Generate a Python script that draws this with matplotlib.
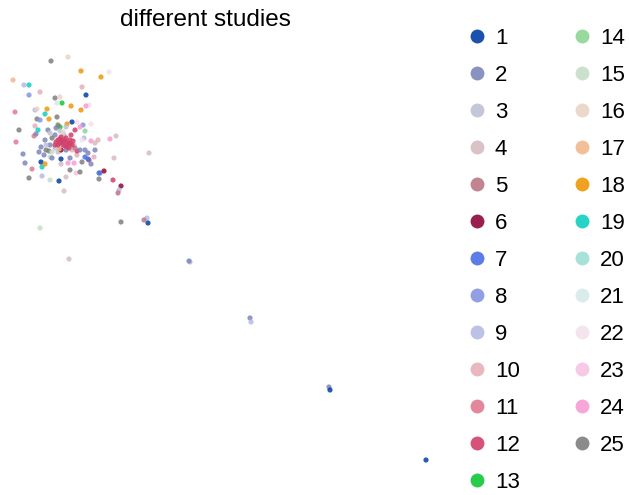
import matplotlib
matplotlib.use('Agg')
import matplotlib.pyplot as plt
from matplotlib.lines import Line2D

plt.rcParams['font.family'] = ['Liberation Sans', 'DejaVu Sans']

# colours per study (zeileis palette, as in scanpy)
palette = ["#023fa5", "#7d87b9", "#bec1d4", "#d6bcc0", "#bb7784", "#8e063b",
           "#4a6fe3", "#8595e1", "#b5bbe3", "#e6afb9", "#e07b91", "#d33f6a",
           "#11c638", "#8dd593", "#c6dec7", "#ead3c6", "#f0b98d", "#ef9708",
           "#0fcfc0", "#9cded6", "#d5eae7", "#f3e1eb", "#f6c4e1", "#f79cd4",
           "#7f7f7f"]
studies = [str(i) for i in range(1, 26)]

# embedding coordinates
umap1 = [5.1, 6.8, 8.1, 10.1, 10.9, 1.3, 2.4, 2.9, 2.9, 4.0, 8.2, 8.6, 5.5, 6.0, 6.2, 5.7,
         7.1, 8.9, 8.6, 8.1, 4.7, 3.5, 3.7, 4.5, 1.5, 5.7, 3.7, 4.9, 4.0, 1.9, 1.6, 3.5,
         3.8, 3.4, 3.6, 7.7, 7.2, 8.3, 8.0, 9.1, 6.7, 6.0, 8.5, 7.5, 7.1, 8.4, 11.0, 11.6,
         9.8, 9.5, 9.1, 4.1, 3.9, 2.3, 2.5, 3.2, 4.2, 4.1, 4.5, 5.0, 4.9, 5.8, 6.1, 6.8,
         7.4, 6.1, 8.2, 8.5, 7.7, 7.7, 8.9, 9.1, 8.8, 9.4, 11.4, 14.9, 4.2, 2.9, 5.0, 5.9,
         6.6, 7.6, 8.0, 10.0, 9.9, 10.4, 9.9, 11.3, 12.1, 11.9, 11.8, 6.4, 12.1, 14.7, 14.8,
         14.4, 4.0, 6.9, 19.0, 18.9, 25.0, 25.1, 32.9, 33.0, 42.6,
         # dense core
         4.5, 5.0, 5.5, 4.8, 6.2, 8.0, 8.5, 7.0, 6.6, 5.2, 8.8, 9.5, 5.6, 4.4,
         5.2, 5.8, 4.6, 7.0, 5.0, 6.0, 6.6, 7.4, 4.6, 5.5, 6.4, 5.7, 5.2, 8.2, 6.6,
         7.2, 6.1, 7.5, 6.3, 5.9,
         5.6, 5.8, 6.0, 6.2, 6.4, 6.6, 6.8, 7.0, 7.2, 6.0, 6.3, 6.5, 6.7, 6.9, 5.8,
         6.1, 5.5, 7.0, 7.3, 6.6]
umap2 = [41.9, 42.3, 40.9, 40.3, 40.8, 40.0, 39.5, 39.5, 38.5, 38.8, 39.3, 38.5, 38.2, 38.3,
         37.7, 37.7, 37.4, 37.5, 37.4, 37.0, 37.1, 37.0, 37.1, 36.6, 36.8, 36.3, 36.1, 36.1,
         36.0, 35.0, 33.8, 35.4, 35.0, 34.4, 34.6, 35.8, 35.8, 35.5, 35.3, 35.6, 35.6, 35.3,
         34.9, 35.0, 34.5, 34.2, 34.1, 34.4, 34.0, 33.7, 33.9, 33.3, 32.8, 32.6, 31.7, 31.1,
         31.3, 31.8, 31.6, 32.3, 32.9, 32.8, 31.6, 31.7, 31.7, 32.1, 31.8, 32.3, 32.5, 32.9,
         32.0, 31.6, 32.1, 32.3, 32.2, 32.7, 30.4, 30.2, 30.0, 29.9, 30.3, 30.7, 30.8, 30.7,
         30.7, 30.9, 30.1, 30.0, 29.4, 29.0, 28.7, 28.9, 25.8, 26.2, 25.7, 26.0, 25.2, 22.1,
         21.8, 21.9, 16.2, 15.8, 9.3, 9.0, 2.0,
         34.0, 33.5, 34.5, 35.0, 33.8, 33.0, 33.0, 32.2, 33.0, 32.2, 32.7, 33.0, 35.2, 32.5,
         34.2, 35.5, 33.0, 31.0, 34.7, 34.9, 35.3, 33.5, 33.5, 33.2, 34.5, 33.3, 32.8, 34.0,
         33.4, 33.0, 33.0, 33.2, 34.8, 33.1,
         33.8, 34.0, 34.1, 33.9, 34.0, 33.8, 33.7, 33.6, 33.5, 33.7, 33.5, 33.4, 33.3, 33.2,
         33.5, 34.3, 33.5, 34.0, 33.9, 34.2]
study = [25, 16, 18, 18, 22, 17, 9, 19, 8, 10, 10, 1, 25, 16, 13, 21, 18, 22, 24, 18, 18, 9,
         16, 19, 11, 25, 25, 18, 8, 25, 11, 10, 19, 11, 2, 22, 1, 8, 24, 22, 18, 13, 14, 12,
         12, 9, 24, 4, 10, 4, 24, 2, 2, 2, 2, 11, 19, 1, 18, 15, 25, 3, 4, 24, 24, 1, 25, 7,
         10, 12, 12, 2, 7, 10, 4, 4, 9, 25, 15, 1, 4, 23, 25, 2, 7, 6, 25, 12, 6, 9, 5, 4, 25,
         9, 1, 5, 15, 4, 9, 2, 2, 9, 2, 1, 1,
         2, 2, 2, 2, 2, 2, 2, 2, 2, 2, 2, 2, 2, 2,
         25, 25, 25, 25, 3, 3, 3, 3, 3, 9, 9, 15, 15, 22, 22,
         10, 6, 5, 16, 17,
         12, 12, 12, 12, 12, 12, 12, 12, 12, 12, 12, 12, 12, 12, 12,
         12, 12, 12, 12, 12]

fig = plt.figure(figsize=(6.29, 4.95), dpi=100)
ax = fig.add_axes([0.0, 25 / 495, 445 / 629, 434 / 495])

cols = [palette[s - 1] for s in study]
ax.scatter(umap1, umap2, c=cols, s=14, linewidths=0, alpha=0.85)
ax.set_xlim(0, 44.5)
ax.set_ylim(1.0, 44.4)
ax.set_xticks([])
ax.set_yticks([])
for sp in ax.spines.values():
    sp.set_visible(False)
ax.set_title('different studies', fontsize=17.5, pad=0, x=205 / 445, y=1.023)

handles = [Line2D([], [], marker='o', linestyle='none', markersize=10,
                  markerfacecolor=c, markeredgewidth=0, alpha=0.9) for c in palette]
fig.legend(handles, studies, loc='upper left', bbox_to_anchor=(446 / 629, 1 - 8 / 495),
           ncol=2, frameon=False, fontsize=16, handlelength=1.0, handletextpad=0.3,
           columnspacing=2.3, labelspacing=0.72, borderpad=0.4)

fig.savefig('out.png', dpi=100)
